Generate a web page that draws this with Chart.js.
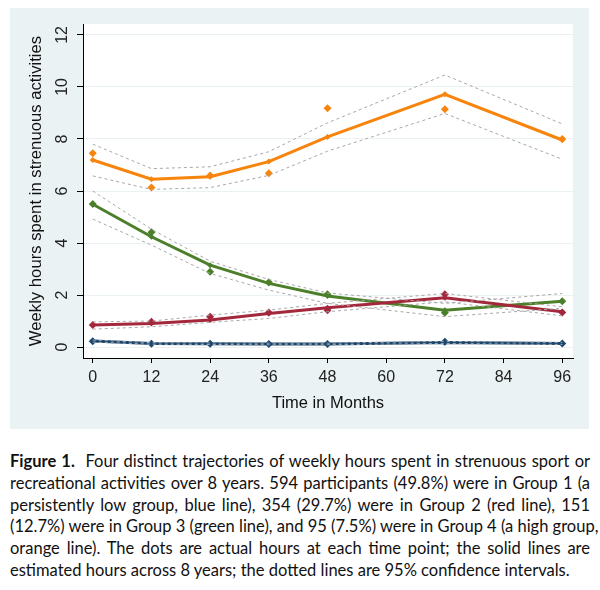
<!DOCTYPE html>
<html>
<head>
<meta charset="utf-8">
<script src="https://cdn.jsdelivr.net/npm/chart.js@4.4.1/dist/chart.umd.min.js"></script>
<style>
  body { margin: 0; background: #fff; width: 600px; height: 590px; position: relative; }
  #panel { position: absolute; left: 10px; top: 8px; width: 579px; height: 421px; background: #EAF2F3; }
  #caption { position: absolute; left: 10px; top: 451px; width: 580px; font-family: Lato, "Open Sans", sans-serif; font-size: 16.5px; line-height: 21.8px; color: #111; }
  #caption div { text-align: justify; text-align-last: justify; white-space: nowrap; }
  #caption div.last { text-align-last: left; }
</style>
</head>
<body>
<div id="panel"><canvas id="chartCanvas" width="579" height="421"></canvas></div>
<div id="caption">
  <div><b>Figure 1.</b>&nbsp; Four distinct trajectories of weekly hours spent in strenuous sport or</div>
  <div>recreational activities over 8 years. 594 participants (49.8%) were in Group 1 (a</div>
  <div>persistently low group, blue line), 354 (29.7%) were in Group 2 (red line), 151</div>
  <div>(12.7%) were in Group 3 (green line), and 95 (7.5%) were in Group 4 (a high group,</div>
  <div>orange line). The dots are actual hours at each time point; the solid lines are</div>
  <div class="last">estimated hours across 8 years; the dotted lines are 95% confidence intervals.</div>
</div>
<script>
const months = [0, 12, 24, 36, 48, 72, 96];
const xTicks = [0, 12, 24, 36, 48, 60, 72, 84, 96];
const yTicks = [0, 2, 4, 6, 8, 10, 12];

// group 1 - persistently low (blue)
const g1Est = [0.23, 0.14, 0.13, 0.12, 0.12, 0.18, 0.14];
const g1Obs = [0.22, 0.13, 0.13, 0.12, 0.12, 0.2, 0.14];
const g1Hi = [0.27, 0.17, 0.16, 0.15, 0.15, 0.22, 0.18];
const g1Lo = [0.19, 0.11, 0.10, 0.09, 0.09, 0.14, 0.10];

// group 2 (red)
const g2Est = [0.85, 0.91, 1.04, 1.29, 1.51, 1.9, 1.36];
const g2Obs = [0.85, 0.97, 1.17, 1.33, 1.42, 2.03, 1.33];
const g2Hi = [0.97, 1.0, 1.23, 1.42, 1.68, 2.06, 1.55];
const g2Lo = [0.69, 0.78, 0.95, 1.1, 1.36, 1.74, 1.2];

// group 3 (green)
const g3Est = [5.49, 4.24, 3.15, 2.45, 1.96, 1.42, 1.76];
const g3Obs = [5.5, 4.41, 2.9, 2.49, 2.03, 1.32, 1.76];
const g3Hi = [6.0, 4.53, 3.3, 2.6, 2.08, 1.68, 2.06];
const g3Lo = [4.92, 3.92, 2.83, 2.19, 1.68, 1.17, 1.49];

// group 4 - high (orange)
const g4Est = [7.19, 6.45, 6.55, 7.13, 8.08, 9.72, 7.96];
const g4Obs = [7.45, 6.13, 6.6, 6.68, 9.18, 9.14, 8.0];
const g4Hi = [7.8, 6.86, 6.93, 7.51, 8.62, 10.46, 8.58];
const g4Lo = [6.58, 6.06, 6.13, 6.6, 7.53, 8.98, 7.22];

const groups = [
  { est: g1Est, obs: g1Obs, hi: g1Hi, lo: g1Lo, color: "#1A476F" },
  { est: g2Est, obs: g2Obs, hi: g2Hi, lo: g2Lo, color: "#A3283C" },
  { est: g3Est, obs: g3Obs, hi: g3Hi, lo: g3Lo, color: "#4C7F2A" },
  { est: g4Est, obs: g4Obs, hi: g4Hi, lo: g4Lo, color: "#F7840C" },
];

function toPoints(values) {
  return months.map((m, i) => ({ x: m, y: values[i] }));
}

const ciDatasets = [];
const lineDatasets = [];
groups.forEach((g) => {
  [g.hi, g.lo].forEach((vals) => {
    ciDatasets.push({
      data: toPoints(vals),
      borderColor: "#A8A8A8",
      borderWidth: 1,
      borderDash: [3, 3],
      pointRadius: 0,
      fill: false,
    });
  });
  lineDatasets.push({
    data: toPoints(g.obs),
    showLine: false,
    pointStyle: "rectRot",
    pointRadius: 4,
    pointBackgroundColor: g.color,
    pointBorderWidth: 0,
  });
  lineDatasets.push({
    data: toPoints(g.est),
    borderColor: g.color,
    borderWidth: 3,
    pointStyle: "rectRot",
    pointRadius: 3,
    pointBackgroundColor: g.color,
    pointBorderWidth: 0,
    fill: false,
  });
});

const plotBackground = {
  id: "plotBackground",
  beforeDraw(chart) {
    const { ctx, chartArea } = chart;
    ctx.save();
    ctx.fillStyle = "#fff";
    ctx.fillRect(chartArea.left, chartArea.top, chartArea.width, chartArea.height);
    ctx.restore();
  },
};

// y tick labels are rotated like the original
const rotatedYLabels = {
  id: "rotatedYLabels",
  afterDraw(chart) {
    const { ctx } = chart;
    const scale = chart.scales.y;
    ctx.save();
    ctx.font = "16px 'Liberation Sans', Arial, sans-serif";
    ctx.fillStyle = "#222";
    ctx.textAlign = "center";
    ctx.textBaseline = "middle";
    scale.ticks.forEach((t) => {
      const py = scale.getPixelForValue(t.value);
      ctx.save();
      ctx.translate(53, py);
      ctx.rotate(-Math.PI / 2);
      ctx.fillText(String(t.value), 0, 0);
      ctx.restore();
    });
    ctx.restore();
  },
};

const chartMachine = new Chart(document.getElementById("chartCanvas"), {
  type: "line",
  data: { datasets: ciDatasets.concat(lineDatasets) },
  options: {
    responsive: false,
    animation: false,
    layout: { padding: { left: 0, top: 16, right: 16, bottom: 0 } },
    plugins: { legend: { display: false }, tooltip: { enabled: false } },
    scales: {
      x: {
        type: "linear",
        min: -2,
        max: 98.2,
        afterBuildTicks: (scale) => {
          scale.ticks = xTicks.map((v) => ({ value: v }));
        },
        afterFit: (scale) => {
          scale.height = 71;
        },
        grid: { drawOnChartArea: false, tickColor: "#000", tickLength: 5 },
        border: { color: "#000", width: 1 },
        ticks: {
          padding: 5,
          color: "#222",
          font: { family: "'Liberation Sans', Arial, sans-serif", size: 16 },
        },
        title: {
          display: true,
          text: "Time in Months",
          color: "#111",
          padding: { top: 0, bottom: 16 },
          font: { family: "'Liberation Sans', Arial, sans-serif", size: 16.5 },
        },
      },
      y: {
        min: -0.42,
        max: 12.42,
        afterBuildTicks: (scale) => {
          scale.ticks = yTicks.map((v) => ({ value: v }));
        },
        afterFit: (scale) => {
          scale.width = 73;
        },
        grid: { color: "#EAF2F3", tickColor: "#000", tickLength: 6 },
        border: { color: "#000", width: 1 },
        ticks: { display: false },
        title: {
          display: true,
          text: "Weekly hours spent in strenuous activities",
          color: "#111",
          padding: { top: 16, bottom: 0 },
          font: { family: "'Liberation Sans', Arial, sans-serif", size: 16.7 },
        },
      },
    },
  },
  plugins: [plotBackground, rotatedYLabels],
});
</script>
</body>
</html>
